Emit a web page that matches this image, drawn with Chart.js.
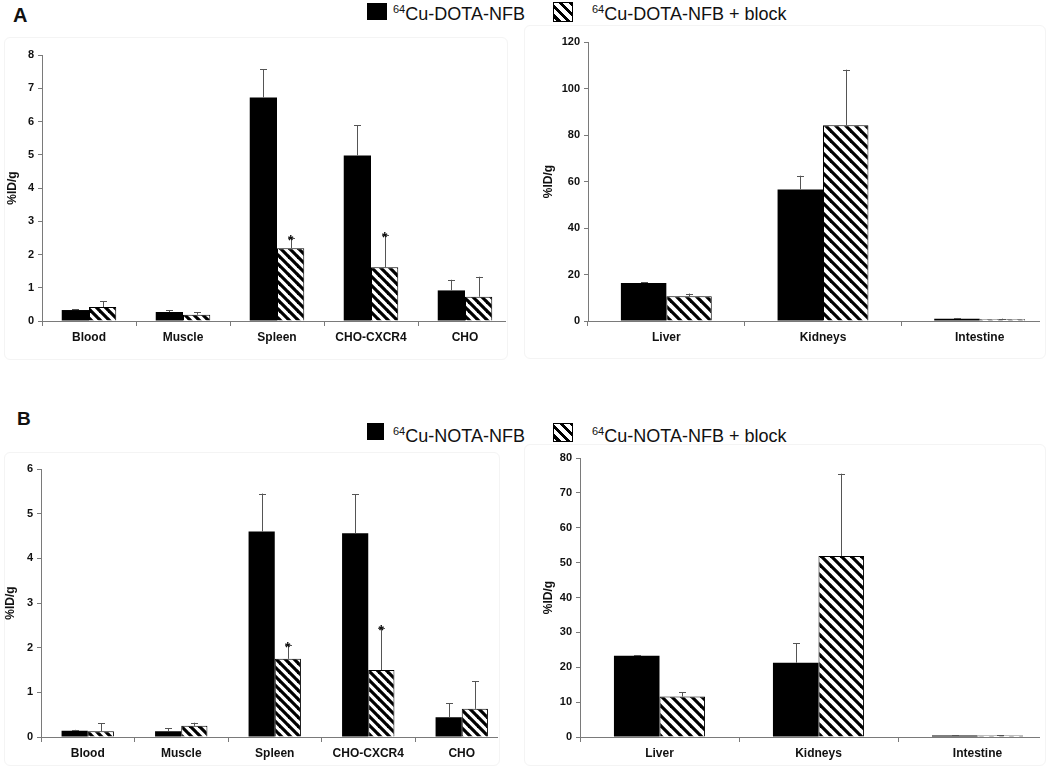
<!DOCTYPE html>
<html>
<head>
<meta charset="utf-8">
<script src="https://cdn.jsdelivr.net/npm/chart.js@4.4.0/dist/chart.umd.min.js"></script>
<style>
  body { margin: 0; background: #fff; font-family: "Liberation Sans", Arial, sans-serif; }
  #page { position: relative; width: 1050px; height: 767px; overflow: hidden; }
  .clip { position: absolute; overflow: hidden; }
  .clip canvas { position: absolute; left: 0; top: 0; }
  .frame { position: absolute; border: 1px solid #f4f4f4; border-radius: 6px; }
  .panel { position: absolute; font-weight: bold; font-size: 20px; color: #111; }
  .leg { position: absolute; font-size: 18px; color: #111; white-space: nowrap; line-height: 1; }
  .leg sup { font-size: 11px; vertical-align: 7px; }
  .sw { position: absolute; }
  .solid { background: #000; }
  .hatch { border: 1px solid #000; box-sizing: border-box;
    background: repeating-linear-gradient(45deg, #fff 0 2px, #000 2px 5px, #fff 5px 7px); }
</style>
</head>
<body>
<div id="page">
  <div class="frame" style="left:4px;top:37px;width:502px;height:321px"></div>
  <div class="frame" style="left:524px;top:25px;width:520px;height:332px"></div>
  <div class="frame" style="left:4px;top:452px;width:494px;height:312px"></div>
  <div class="frame" style="left:524px;top:444px;width:520px;height:320px"></div>

  <div class="panel" style="left:13px;top:4px">A</div>
  <div class="panel" style="left:17px;top:408px;font-size:19px">B</div>

  <div class="sw solid" style="left:367px;top:3px;width:20px;height:17px"></div>
  <div class="leg" style="left:393px;top:4px"><sup>64</sup>Cu-DOTA-NFB</div>
  <div class="sw hatch" style="left:553px;top:2px;width:20px;height:20px"></div>
  <div class="leg" style="left:592px;top:4px"><sup>64</sup>Cu-DOTA-NFB + block</div>

  <div class="sw solid" style="left:367px;top:423px;width:17px;height:17px"></div>
  <div class="leg" style="left:393px;top:426px"><sup>64</sup>Cu-NOTA-NFB</div>
  <div class="sw hatch" style="left:553px;top:423px;width:20px;height:19px"></div>
  <div class="leg" style="left:592px;top:426px"><sup>64</sup>Cu-NOTA-NFB + block</div>

  <div class="clip" style="left:0;top:40px;width:506px;height:315px">
    <canvas id="aLeft" width="520" height="315"></canvas></div>
  <div class="clip" style="left:530px;top:30px;width:510px;height:325px">
    <canvas id="aRight" width="535" height="325"></canvas></div>
  <div class="clip" style="left:0;top:455px;width:498px;height:312px">
    <canvas id="bLeft" width="515" height="312"></canvas></div>
  <div class="clip" style="left:530px;top:445px;width:510px;height:322px">
    <canvas id="bRight" width="535" height="322"></canvas></div>
</div>
<script>
const organsLeft = ['Blood', 'Muscle', 'Spleen', 'CHO-CXCR4', 'CHO'];
const organsRight = ['Liver', 'Kidneys', 'Intestine'];

// panel A, 64Cu-DOTA-NFB (mean and SD, %ID/g)
const dotaLeft = [0.33, 0.27, 6.72, 4.98, 0.92];
const dotaLeftSd = [0.02, 0.06, 0.85, 0.90, 0.32];
const dotaBlockLeft = [0.42, 0.19, 2.19, 1.62, 0.73];
const dotaBlockLeftSd = [0.18, 0.07, 0.31, 0.96, 0.60];
const dotaRight = [16.3, 56.6, 1.0];
const dotaRightSd = [0.3, 5.9, 0.3];
const dotaBlockRight = [10.6, 84.2, 0.8];
const dotaBlockRightSd = [1.2, 23.9, 0.2];

// panel B, 64Cu-NOTA-NFB
const notaLeft = [0.14, 0.13, 4.60, 4.56, 0.44];
const notaLeftSd = [0.02, 0.07, 0.85, 0.88, 0.32];
const notaBlockLeft = [0.13, 0.25, 1.75, 1.50, 0.63];
const notaBlockLeftSd = [0.18, 0.07, 0.32, 0.93, 0.62];
const notaRight = [23.3, 21.3, 0.4];
const notaRightSd = [0.2, 5.6, 0.1];
const notaBlockRight = [11.6, 51.9, 0.4];
const notaBlockRightSd = [1.2, 23.6, 0.1];

// significance marks on the block bars
const sigLeft = [false, false, true, true, false];
const sigRight = [false, false, false];

const FONT = '"Liberation Sans", Arial, sans-serif';
const AXIS = '#7a7a7a';

function hatchPattern(ctx, s) {
  const tile = document.createElement('canvas');
  tile.width = s; tile.height = s;
  const t = tile.getContext('2d');
  t.fillStyle = '#fff';
  t.fillRect(0, 0, s, s);
  t.strokeStyle = '#000';
  t.lineWidth = 3.2;
  for (let k = -1; k <= 1; k++) {
    t.beginPath();
    t.moveTo(k * s - 1, -1);
    t.lineTo(k * s + s + 1, s + 1);
    t.stroke();
  }
  return ctx.createPattern(tile, 'repeat');
}

const errorBars = {
  id: 'errorBars',
  afterDatasetsDraw(chart) {
    const { ctx } = chart;
    const y = chart.scales.y;
    ctx.save();
    chart.data.datasets.forEach((ds, di) => {
      const meta = chart.getDatasetMeta(di);
      meta.data.forEach((bar, i) => {
        const top = y.getPixelForValue(ds.data[i] + ds.sd[i]);
        const x = Math.round(bar.x) + 0.5;
        ctx.strokeStyle = '#555';
        ctx.lineWidth = 1;
        ctx.beginPath();
        ctx.moveTo(x, bar.y);
        ctx.lineTo(x, top);
        ctx.moveTo(x - 3.5, Math.round(top) + 0.5);
        ctx.lineTo(x + 3.5, Math.round(top) + 0.5);
        ctx.stroke();
        if (ds.sig && ds.sig[i]) {
          ctx.fillStyle = '#111';
          ctx.font = 'bold 14px ' + FONT;
          ctx.textAlign = 'center';
          ctx.textBaseline = 'alphabetic';
          ctx.fillText('*', bar.x, top + 7);
        }
      });
    });
    ctx.restore();
  }
};

function makeChart(id, labels, solid, solidSd, block, blockSd, sig, yMax, step, c) {
  const canvas = document.getElementById(id);
  const ctx = canvas.getContext('2d');
  return new Chart(ctx, {
    type: 'bar',
    data: {
      labels: labels,
      datasets: [
        { data: solid, sd: solidSd, backgroundColor: '#000', borderWidth: 0 },
        { data: block, sd: blockSd, sig: sig, backgroundColor: hatchPattern(ctx, c.tile),
          borderColor: '#000', borderWidth: 1 }
      ]
    },
    options: {
      responsive: false,
      animation: false,
      events: [],
      layout: { padding: { top: c.top, right: c.right, left: 0, bottom: 0 } },
      datasets: { bar: { barPercentage: 1, categoryPercentage: c.cat } },
      plugins: { legend: { display: false }, tooltip: { enabled: false } },
      scales: {
        x: {
          afterFit: s => { s.height = c.xh; },
          grid: { offset: true, drawOnChartArea: false, tickLength: 5, color: AXIS },
          border: { color: AXIS },
          ticks: { color: '#111', padding: 4, font: { family: FONT, size: 12, weight: 'bold' } }
        },
        y: {
          min: 0, max: yMax,
          afterFit: s => { s.width = c.yw; },
          grid: { drawOnChartArea: false, tickLength: 4, color: AXIS },
          border: { color: AXIS },
          ticks: { stepSize: step, color: '#111', padding: 4, font: { family: FONT, size: 11, weight: 'bold' } },
          title: { display: true, text: '%ID/g', color: '#111', padding: { top: c.tp, bottom: 0 },
            font: { family: FONT, size: 12, weight: 'bold' } }
        }
      }
    },
    plugins: [errorBars]
  });
}

makeChart('aLeft', organsLeft, dotaLeft, dotaLeftSd, dotaBlockLeft, dotaBlockLeftSd, sigLeft, 8, 1,
  { top: 15, right: 8, xh: 34, yw: 42, cat: 0.58, tile: 9, tp: 5 });
makeChart('aRight', organsRight, dotaRight, dotaRightSd, dotaBlockRight, dotaBlockRightSd, sigRight, 120, 20,
  { top: 12, right: 7, xh: 34, yw: 58, cat: 0.58, tile: 10, tp: 11 });
makeChart('bLeft', organsLeft, notaLeft, notaLeftSd, notaBlockLeft, notaBlockLeftSd, sigLeft, 6, 1,
  { top: 14, right: 6.5, xh: 30, yw: 41, cat: 0.56, tile: 9, tp: 3 });
makeChart('bRight', organsRight, notaRight, notaRightSd, notaBlockRight, notaBlockRightSd, sigRight, 80, 10,
  { top: 13, right: 8, xh: 30, yw: 50, cat: 0.573, tile: 10, tp: 11 });
</script>
</body>
</html>
